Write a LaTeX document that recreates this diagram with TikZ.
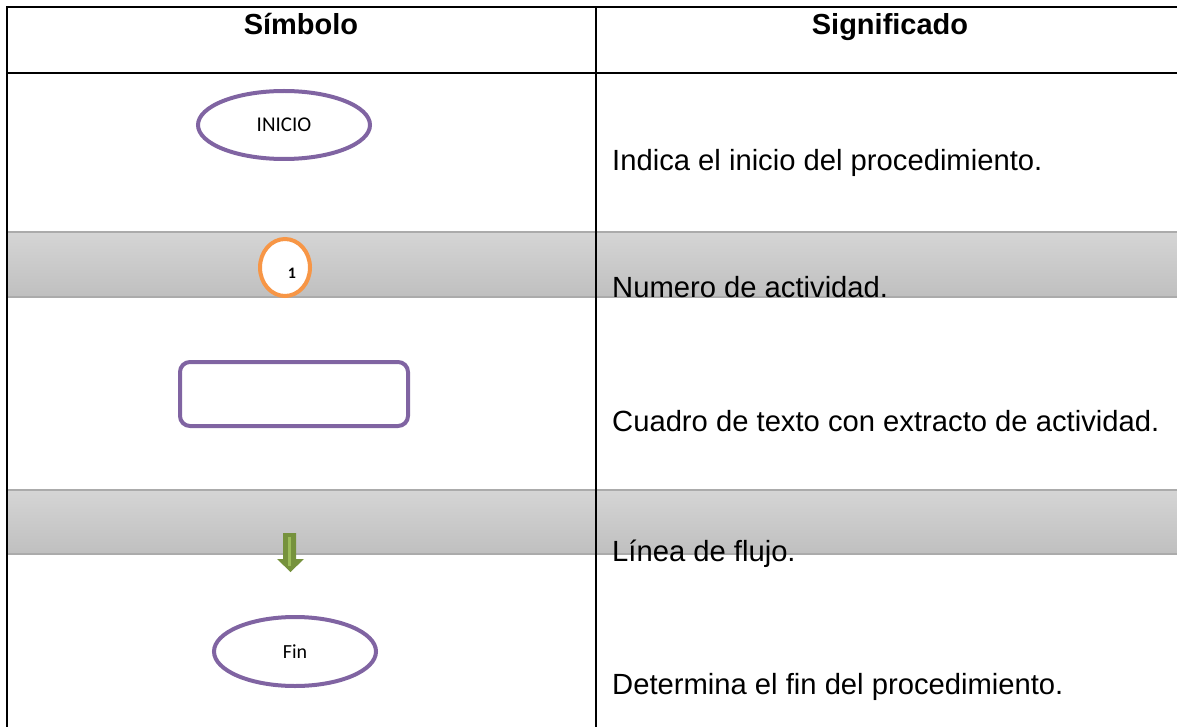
\documentclass[tikz,border=0pt]{standalone}
\usepackage{fontspec}
\setmainfont{Liberation Sans}
\newfontfamily\formafont{Carlito}
\usepackage{tikz}
\usetikzlibrary{shapes.geometric, positioning}

\definecolor{lila}{HTML}{8064A2}
\definecolor{naranja}{HTML}{F79646}
\definecolor{oliva}{HTML}{76923C}
\definecolor{olivaclaro}{HTML}{9BBB59}
\definecolor{bandalinea}{HTML}{ABABAB}

\tikzset{
  texto/.style={anchor=base west, inner sep=0pt, font=\fontsize{29.2}{34}\selectfont},
  titulo/.style={anchor=base, inner sep=0pt, font=\fontsize{29}{34}\selectfont\bfseries},
  banda/.style={top color=gray!33, bottom color=gray!50},
  ovalo/.style={ellipse, draw=lila, line width=4pt, fill=white, inner sep=0pt, font=\formafont\fontsize{21}{24}\selectfont},
}

\begin{document}
\begin{tikzpicture}[x=1pt,y=-1pt]
\useasboundingbox (0,0) rectangle (1177,727);

\shade[banda] (7,232) rectangle (1177,297);
\shade[banda] (7,490) rectangle (1177,554);
\draw[bandalinea,line width=2pt] (7,232) -- (1177,232) (7,297) -- (1177,297);
\draw[bandalinea,line width=2pt] (7,490) -- (1177,490) (7,554) -- (1177,554);

\draw[line width=2pt] (1177,7) -- (7,7) -- (7,727);
\draw[line width=2pt] (7,73) -- (1177,73);
\draw[line width=2pt] (596,7) -- (596,727);

\node[titulo] (simbolo) at (301,35) {Símbolo};
\node[titulo] (significado) at (890,35) {Significado};

\node[ovalo, minimum width=172, minimum height=68] (inicio) at (284,125) {INICIO};
\node[ellipse, draw=naranja, line width=4pt, fill=white, minimum width=50, minimum height=57] (actividad) at (285,267.5) {};
\node[inner sep=0pt, font=\formafont\bfseries\fontsize{16}{18}\selectfont] (uno) at (292,273) {1};
\node[draw=lila, line width=4pt, rounded corners=10, minimum width=228, minimum height=64] (cuadro) at (294,394) {};
\fill[oliva] (283,533) -- (296,533) -- (296,559) -- (304,559) -- (290.5,572) -- (277,559) -- (283,559) -- cycle;
\fill[olivaclaro] (288,537) rectangle (291,566);
\node[ovalo, font=\formafont\fontsize{20}{24}\selectfont, minimum width=162, minimum height=69] (fin) at (295,651.5) {Fin};

\node[texto] (t1) at (612,171) {Indica el inicio del procedimiento.};
\node[texto] (t2) at (612,297) {Numero de actividad.};
\node[texto] (t3) at (612,431) {Cuadro de texto con extracto de actividad.};
\node[texto] (t4) at (612,561) {Línea de flujo.};
\node[texto] (t5) at (612,694) {Determina el fin del procedimiento.};
\end{tikzpicture}
\end{document}
